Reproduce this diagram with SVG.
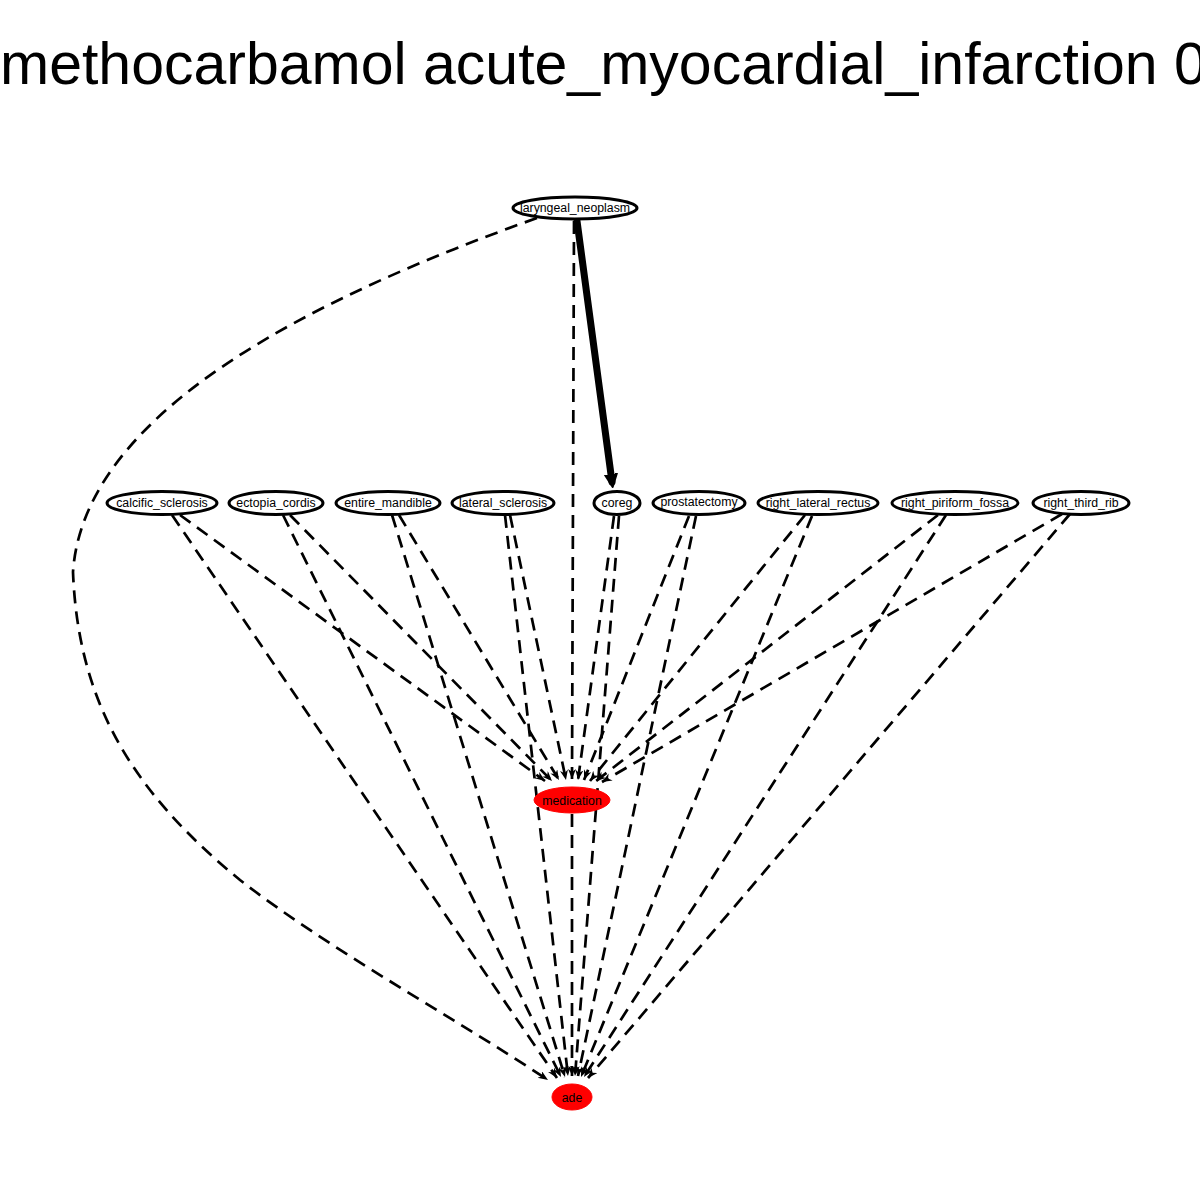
<svg xmlns="http://www.w3.org/2000/svg" width="1200" height="1200" viewBox="0 0 1200 1200">
<style>
.e{fill:none;stroke:#000;stroke-width:2.7;stroke-dasharray:13,8;marker-end:url(#ah)}
.n ellipse{fill:#fff;stroke:#000;stroke-width:3}
.n.r ellipse{fill:#f00;stroke:#f00;stroke-width:1}
.n text{font-family:"Liberation Sans",Arial,sans-serif;font-size:12.3px;text-anchor:middle;fill:#000}
.t{font-family:"Liberation Sans",Arial,sans-serif;font-size:59px;fill:#000}
</style>
<defs>
<marker id="ah" markerUnits="userSpaceOnUse" markerWidth="12" markerHeight="10" refX="10" refY="4" orient="auto">
<path d="M0,0 L10,4 L0,8 L3,4 z" fill="#000"/>
</marker>
<marker id="ahb" markerUnits="userSpaceOnUse" markerWidth="16" markerHeight="16" refX="8" refY="8" orient="auto">
<path d="M0,2 L13,8 L0,14 z" fill="#000" stroke="#000" stroke-width="2" stroke-linejoin="round"/>
</marker>
</defs>
<rect width="1200" height="1200" fill="#fff"/>
<text class="t" x="0" y="84">methocarbamol acute_myocardial_infarction 0</text>
<g id="edges">
<path class="e" d="M537,218 C318,296 84,410 73,572 C78,700 130,790 240,880 C330,950 450,1015 548,1080"/>
<line x1="577" y1="221" x2="612" y2="482" stroke="#000" stroke-width="7" stroke-linecap="round" marker-end="url(#ahb)"/>
<line class="e" x1="574" y1="221" x2="572" y2="779"/>
<line class="e" x1="572" y1="814" x2="572" y2="1076"/>
<line class="e" x1="172" y1="515" x2="557" y2="1078"/>
<line class="e" x1="180" y1="515" x2="545" y2="781"/>
<line class="e" x1="283" y1="515" x2="561" y2="1077"/>
<line class="e" x1="290" y1="515" x2="552" y2="781"/>
<line class="e" x1="392" y1="515" x2="565" y2="1077"/>
<line class="e" x1="399" y1="515" x2="559" y2="780"/>
<line class="e" x1="505" y1="515" x2="568" y2="1076"/>
<line class="e" x1="510" y1="515" x2="566" y2="780"/>
<line class="e" x1="614" y1="516" x2="578" y2="780"/>
<line class="e" x1="619" y1="516" x2="575" y2="1076"/>
<line class="e" x1="689" y1="516" x2="584" y2="780"/>
<line class="e" x1="696" y1="516" x2="578" y2="1076"/>
<line class="e" x1="805" y1="515" x2="590" y2="781"/>
<line class="e" x1="812" y1="516" x2="581" y2="1077"/>
<line class="e" x1="938" y1="515" x2="596" y2="781"/>
<line class="e" x1="946" y1="515" x2="584" y2="1077"/>
<line class="e" x1="1062" y1="514" x2="602" y2="782"/>
<line class="e" x1="1070" y1="514" x2="588" y2="1078"/>
</g>
<g id="laryngeal_neoplasm" class="n"><ellipse cx="575" cy="208" rx="62" ry="11"/><text x="575" y="212">laryngeal_neoplasm</text></g>
<g id="calcific_sclerosis" class="n"><ellipse cx="162" cy="503" rx="55" ry="11.5"/><text x="162" y="507">calcific_sclerosis</text></g>
<g id="ectopia_cordis" class="n"><ellipse cx="276" cy="503" rx="47" ry="11.5"/><text x="276" y="507">ectopia_cordis</text></g>
<g id="entire_mandible" class="n"><ellipse cx="388" cy="503" rx="52" ry="11.5"/><text x="388" y="507">entire_mandible</text></g>
<g id="lateral_sclerosis" class="n"><ellipse cx="503" cy="503" rx="51" ry="11.5"/><text x="503" y="507">lateral_sclerosis</text></g>
<g id="coreg" class="n"><ellipse cx="617" cy="503" rx="23" ry="11.5"/><text x="617" y="507">coreg</text></g>
<g id="prostatectomy" class="n"><ellipse cx="699" cy="503" rx="46" ry="11.5"/><text x="699" y="506">prostatectomy</text></g>
<g id="right_lateral_rectus" class="n"><ellipse cx="818" cy="503" rx="60" ry="11.5"/><text x="818" y="507">right_lateral_rectus</text></g>
<g id="right_piriform_fossa" class="n"><ellipse cx="955" cy="503" rx="63" ry="11.5"/><text x="955" y="507">right_piriform_fossa</text></g>
<g id="right_third_rib" class="n"><ellipse cx="1081" cy="503" rx="48" ry="11.5"/><text x="1081" y="507">right_third_rib</text></g>
<g id="medication" class="n r"><ellipse cx="572" cy="800" rx="38" ry="13"/><text x="572" y="805">medication</text></g>
<g id="ade" class="n r"><ellipse cx="572" cy="1097" rx="20" ry="13"/><text x="572" y="1102">ade</text></g>
</svg>
